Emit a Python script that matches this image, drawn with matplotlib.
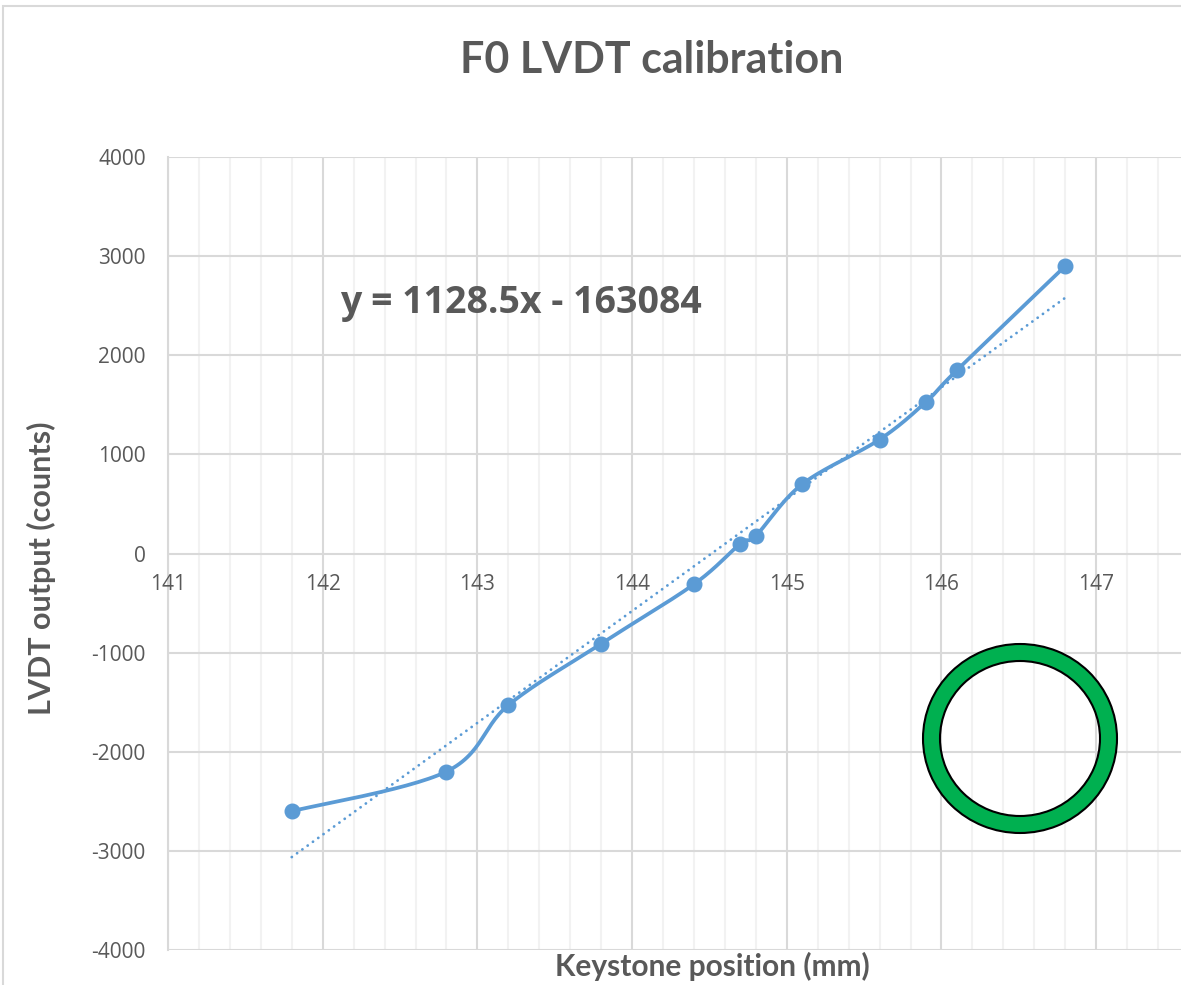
import numpy as np
import matplotlib
matplotlib.use("Agg")
import matplotlib.pyplot as plt
from matplotlib.patches import Annulus, Rectangle
from matplotlib.ticker import MultipleLocator

# Data
positions = [141.8, 142.8, 143.2, 143.8, 144.4, 144.7, 144.8, 145.1, 145.6, 145.9, 146.1, 146.8]
counts = [-2600, -2200, -1530, -910, -310, 100, 180, 700, 1150, 1530, 1850, 2900]
slope = 1128.5
intercept = -163084
title = "F0 LVDT calibration"
xlabel = "Keystone position (mm)"
ylabel = "LVDT output (counts)"
eq_text = "y = 1128.5x - 163084"

BLUE = "#5B9BD5"
GRAY = "#595959"
narrow = ["Lato", "DejaVu Sans"]
plt.rcParams['font.family'] = ["Open Sans", "DejaVu Sans"]
plt.rcParams['axes.unicode_minus'] = False

W, H = 1181, 985
fig = plt.figure(figsize=(W / 100, H / 100), dpi=100)

def px_rect(l, t, r, b):
    return [l / W, 1 - b / H, (r - l) / W, (b - t) / H]

# chart border
fig.patches.append(Rectangle((3 / W, 1 - 1200 / H), 1.2, (1200 - 6) / H, transform=fig.transFigure,
                             fill=False, edgecolor="#D9D9D9", linewidth=1.5))

ax = fig.add_axes(px_rect(168, 157, 168 + 7 * 154.7, 950))
ax.set_xlim(141, 148)
ax.set_ylim(-4000, 4000)
ax.xaxis.set_major_locator(MultipleLocator(1))
ax.xaxis.set_minor_locator(MultipleLocator(0.2))
ax.yaxis.set_major_locator(MultipleLocator(1000))
ax.grid(which="major", color="#D9D9D9", linewidth=1.5)
ax.grid(which="minor", axis="x", color="#F2F2F2", linewidth=1.5)
ax.set_axisbelow(True)
for s in ["top", "right", "bottom"]:
    ax.spines[s].set_visible(False)
ax.spines["left"].set_color("#D9D9D9")
ax.spines["left"].set_linewidth(1.5)
ax.tick_params(which="both", length=0)
ax.tick_params(axis="y", labelsize=15, labelcolor=GRAY, pad=16)
ax.tick_params(axis="x", labelsize=15, labelcolor=GRAY, pad=0)
ax.set_xticklabels([])
# x tick labels near zero line
for xv in range(141, 148):
    ax.annotate(str(xv), (xv, 0), xytext=(0, -22), textcoords="offset points",
                ha="center", va="center", fontsize=15, color=GRAY)

# smoothed series (Catmull-Rom / Bezier, Excel-like)
P = np.column_stack([positions, counts]).astype(float)
n = len(P)
curve = []
t = np.linspace(0, 1, 30)
for i in range(n - 1):
    p0 = P[i - 1] if i > 0 else P[i]
    p1 = P[i]
    p2 = P[i + 1]
    p3 = P[i + 2] if i + 2 < n else P[i + 1]
    c1 = p1 + (p2 - p0) / 6
    c2 = p2 - (p3 - p1) / 6
    seg = ((1 - t) ** 3)[:, None] * p1 + (3 * (1 - t) ** 2 * t)[:, None] * c1 + \
          (3 * (1 - t) * t ** 2)[:, None] * c2 + (t ** 3)[:, None] * p2
    curve.append(seg)
curve = np.vstack(curve)
ax.plot(curve[:, 0], curve[:, 1], color=BLUE, linewidth=2.7, solid_capstyle="round", zorder=3)
ax.plot(positions, counts, "o", color=BLUE, markersize=10.5, zorder=4)

# trendline
tx = np.array([min(positions), max(positions)])
ax.plot(tx, slope * tx + intercept, color=BLUE, linewidth=2, linestyle=(0, (0.05, 2.3)),
        dash_capstyle="round", zorder=2)

fig.text(340 / W, 1 - 303 / H, eq_text, fontsize=27, fontweight="bold", color=GRAY, va="center", ha="left")
fig.text(652 / W, 1 - 60 / H, title, fontsize=31, fontweight="bold", color=GRAY, ha="center", va="center",
         family=narrow)
fig.text(712 / W, 1 - 966 / H, xlabel, fontsize=21.5, fontweight="bold", color=GRAY, ha="center", va="center",
         family=narrow)
fig.text(41 / W, 1 - 568 / H, ylabel, fontsize=22, fontweight="bold", color=GRAY, ha="center", va="center",
         rotation=90, family=narrow)

# green ring annotation
ring = Annulus((1020 / 100, (H - 738.5) / 100), (0.97, 0.945), 0.17, transform=fig.dpi_scale_trans,
               facecolor="#00B050", edgecolor="black", linewidth=1.5)
fig.patches.append(ring)

fig.savefig("out.png", dpi=100)
